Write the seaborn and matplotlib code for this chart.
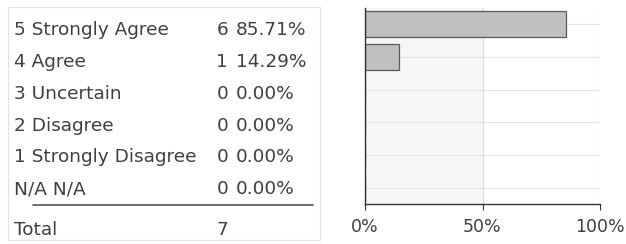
import matplotlib
matplotlib.use("Agg")
import matplotlib.pyplot as plt
import seaborn as sns
import pandas as pd
from matplotlib.patches import Rectangle
from matplotlib.lines import Line2D

categories = ["5 Strongly Agree", "4 Agree", "3 Uncertain", "2 Disagree",
              "1 Strongly Disagree", "N/A N/A"]
counts = [6, 1, 0, 0, 0, 0]
percents = [85.71, 14.29, 0.0, 0.0, 0.0, 0.0]
total_label = "Total"
total_count = 7
x_ticks = [0, 50, 100]
x_tick_labels = ["0%", "50%", "100%"]

sns.set_theme(style="white")
plt.rcParams['font.family'] = ['DejaVu Sans']

W, H = 626, 244
fig = plt.figure(figsize=(W / 100, H / 100), dpi=100)
fig.patch.set_facecolor("white")

def fx(px):
    return px / W

def fy(py):
    return 1 - py / H

# table box
fig.patches.append(Rectangle((fx(8), fy(240)), fx(320) - fx(8), fy(7) - fy(240),
                             transform=fig.transFigure, fill=False,
                             edgecolor="#e2e2e2", linewidth=0.8))
fs = 13.3
txt_color = "#404040"
row_y = [30, 62, 94, 126, 157, 189]
for i, cat in enumerate(categories):
    y = fy(row_y[i])
    fig.text(fx(14), y, cat, fontsize=fs, color=txt_color, va="center", ha="left")
    fig.text(fx(228), y, str(counts[i]), fontsize=fs, color=txt_color, va="center", ha="right")
    fig.text(fx(236), y, f"{percents[i]:.2f}%", fontsize=fs, color=txt_color, va="center", ha="left")
fig.lines.append(Line2D([fx(33), fx(313)], [fy(205), fy(205)], transform=fig.transFigure,
                        color="#555555", linewidth=1.2))
fig.text(fx(14), fy(230), total_label, fontsize=fs, color=txt_color, va="center", ha="left")
fig.text(fx(228), fy(230), str(total_count), fontsize=fs, color=txt_color, va="center", ha="right")

# bar chart
ax = fig.add_axes([fx(365), fy(204), fx(600) - fx(365), fy(8) - fy(204)])
df = pd.DataFrame({"category": categories, "percent": percents})
ax.axvspan(0, 50, color="#f6f6f6", zorder=0)
for i in range(len(categories)):
    ax.axhline(i, color="#e4e4e4", linewidth=0.8, zorder=0.5)
ax.axvline(50, color="#dcdcdc", linewidth=0.8, zorder=0.5)
ax.axvline(100, color="#dcdcdc", linewidth=0.8, zorder=0.5)
sns.barplot(data=df, x="percent", y="category", orient="h", ax=ax,
            color="#c0c0c0", edgecolor="#5a5a5a", linewidth=0.9, width=0.8,
            saturation=1, zorder=2)
ax.set_xlim(0, 100)
ax.set_ylim(len(categories) - 0.5, -0.5)
ax.set_xticks(x_ticks)
ax.set_xticklabels(x_tick_labels, fontsize=12.5, color=txt_color)
ax.set_yticks([])
ax.set_xlabel("")
ax.set_ylabel("")
for s in ["top", "right"]:
    ax.spines[s].set_visible(False)
ax.spines["left"].set_color("#333333")
ax.spines["bottom"].set_color("#333333")
ax.spines["left"].set_linewidth(1.0)
ax.spines["bottom"].set_linewidth(1.0)
ax.tick_params(axis="x", bottom=True, length=4, width=0.8, color="#333333", pad=6)
ax.patch.set_alpha(0)

fig.savefig("out.png", dpi=100)
